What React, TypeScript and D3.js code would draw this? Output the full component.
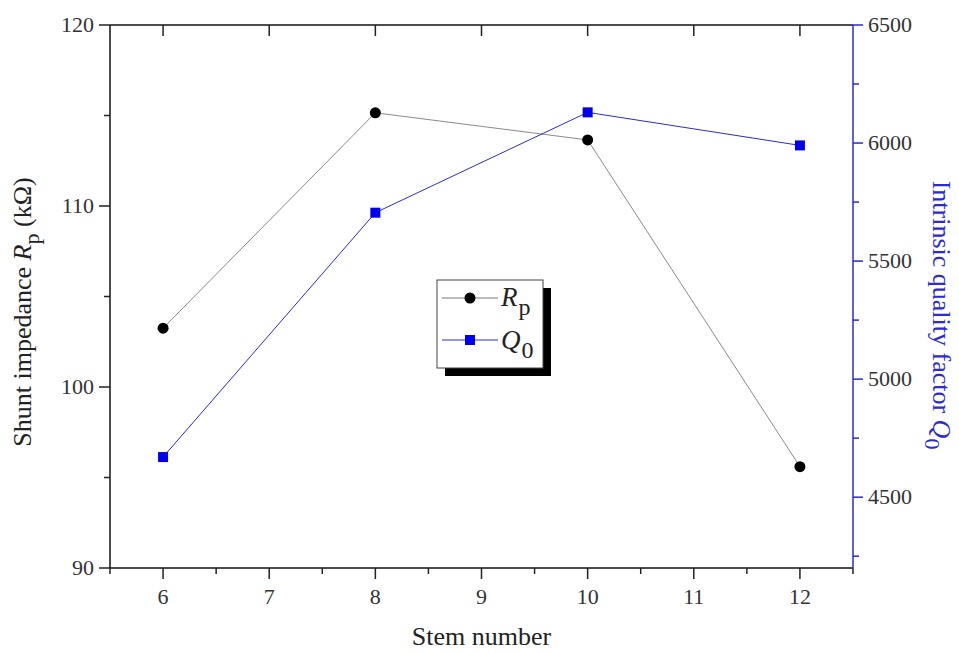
import React from "react";
import * as d3 from "d3";

const stems = [6, 8, 10, 12];
const rpValues = [103.25, 115.15, 113.65, 95.6];
const q0Values = [4670, 5705, 6130, 5990];
const xTicks = [6, 7, 8, 9, 10, 11, 12];
const leftTicks = [90, 100, 110, 120];
const rightTicks = [4500, 5000, 5500, 6000, 6500];

const W = 959, H = 653;
const L = 110, R = 853, T = 25, B = 568;
const FONT = "'Liberation Serif', 'DejaVu Serif', serif";
const BLUE = "#2a2ad8";

export default function App() {
  const x = d3.scaleLinear().domain([5.5, 12.5]).range([L, R]);
  const yL = d3.scaleLinear().domain([90, 120]).range([B, T]);
  const yR = d3.scaleLinear().domain([4200, 6500]).range([B, T]);

  const rpLine = d3.line<number>().x((_, i) => x(stems[i])).y((d) => yL(d))(rpValues) || "";
  const q0Line = d3.line<number>().x((_, i) => x(stems[i])).y((d) => yR(d))(q0Values) || "";

  const xMinor = d3.range(5.5, 12.51, 0.5).filter((v) => !xTicks.includes(v));
  const leftMinor = d3.range(95, 120, 10);
  const rightMinor = d3.range(4250, 6500, 250).filter((v) => !rightTicks.includes(v));

  const tickColor = "#222";
  const labelColor = "#333";
  const TF = 22;

  return (
    <svg width={W} height={H} style={{ position: "absolute", left: 0, top: 0, background: "#fff" }} fontFamily={FONT}>
      {/* frame */}
      <line x1={L} x2={R} y1={T} y2={T} stroke="#111" strokeWidth={1.5} />
      <line x1={L} x2={R} y1={B} y2={B} stroke="#111" strokeWidth={1.5} />
      <line x1={L} x2={L} y1={T} y2={B} stroke="#111" strokeWidth={1.5} />
      <line x1={R} x2={R} y1={T} y2={B} stroke={BLUE} strokeWidth={1.5} />

      {/* bottom ticks */}
      {xTicks.map((v) => (
        <g key={"xb" + v}>
          <line x1={x(v)} x2={x(v)} y1={B} y2={B + 11} stroke={tickColor} strokeWidth={1.5} />
          <line x1={x(v)} x2={x(v)} y1={T} y2={T + 11} stroke={tickColor} strokeWidth={1.5} />
          <text x={x(v)} y={B + 36} textAnchor="middle" fontSize={TF} fill={labelColor}>{v}</text>
        </g>
      ))}
      {xMinor.map((v) => (
        <line key={"xm" + v} x1={x(v)} x2={x(v)} y1={B} y2={B + 6} stroke={tickColor} strokeWidth={1.5} />
      ))}

      {/* left ticks */}
      {leftTicks.map((v) => (
        <g key={"yl" + v}>
          <line x1={L - 11} x2={L} y1={yL(v)} y2={yL(v)} stroke={tickColor} strokeWidth={1.5} />
          <text x={L - 16} y={yL(v) + 7} textAnchor="end" fontSize={TF} fill={labelColor}>{v}</text>
        </g>
      ))}
      {leftMinor.map((v) => (
        <line key={"ylm" + v} x1={L - 6} x2={L} y1={yL(v)} y2={yL(v)} stroke={tickColor} strokeWidth={1.5} />
      ))}

      {/* right ticks */}
      {rightTicks.map((v) => (
        <g key={"yr" + v}>
          <line x1={R} x2={R + 10} y1={yR(v)} y2={yR(v)} stroke={BLUE} strokeWidth={1.5} />
          <text x={R + 15} y={yR(v) + 7} textAnchor="start" fontSize={TF} fill={labelColor}>{v}</text>
        </g>
      ))}
      {rightMinor.map((v) => (
        <line key={"yrm" + v} x1={R} x2={R + 6} y1={yR(v)} y2={yR(v)} stroke={BLUE} strokeWidth={1.5} />
      ))}

      {/* series */}
      <path d={rpLine} fill="none" stroke="#8a8a8a" strokeWidth={1} />
      <path d={q0Line} fill="none" stroke={BLUE} strokeWidth={1} />
      {rpValues.map((v, i) => (
        <circle key={"rp" + i} cx={x(stems[i])} cy={yL(v)} r={5.5} fill="#000" />
      ))}
      {q0Values.map((v, i) => (
        <rect key={"q0" + i} x={x(stems[i]) - 5} y={yR(v) - 5} width={10} height={10} fill="#0000ee" />
      ))}

      {/* legend */}
      <rect x={445} y={288} width={106} height={88} fill="#000" />
      <rect x={437} y={280} width={106} height={88} fill="#fff" stroke="#444" strokeWidth={1} />
      <line x1={442} x2={498} y1={298} y2={298} stroke="#777" strokeWidth={1} />
      <circle cx={470} cy={298} r={5.5} fill="#000" />
      <text x={501} y={306} fontSize={27} fill="#222">
        <tspan fontStyle="italic">R</tspan>
        <tspan dx={1} dy={9} fontSize={24}>p</tspan>
      </text>
      <line x1={442} x2={498} y1={340} y2={340} stroke={BLUE} strokeWidth={1} />
      <rect x={465} y={335} width={10} height={10} fill="#0000ee" />
      <text x={501} y={349} fontSize={27} fill="#222">
        <tspan fontStyle="italic">Q</tspan>
        <tspan dx={1} dy={9} fontSize={24}>0</tspan>
      </text>

      {/* axis titles */}
      <text x={(L + R) / 2} y={645} textAnchor="middle" fontSize={26} fill="#222">Stem number</text>
      <text transform={`translate(31, 312) rotate(-90)`} textAnchor="middle" fontSize={26} fill="#222">
        Shunt impedance <tspan fontStyle="italic">R</tspan><tspan dy={8} fontSize={22}>p</tspan><tspan dy={-8}> (kΩ)</tspan>
      </text>
      <text transform={`translate(933, 315) rotate(90)`} textAnchor="middle" fontSize={26} fill={BLUE}>
        Intrinsic quality factor <tspan fontStyle="italic">Q</tspan><tspan dy={8} fontSize={22}>0</tspan>
      </text>
    </svg>
  );
}
